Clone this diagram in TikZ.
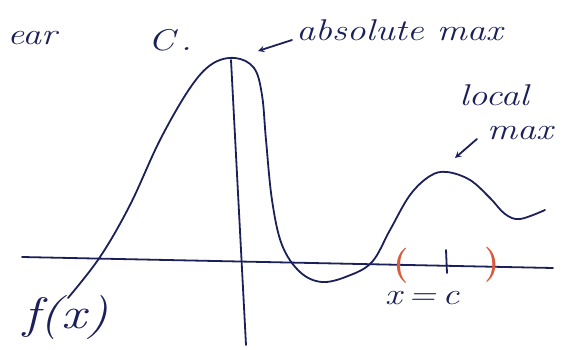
\documentclass[tikz,border=0pt]{standalone}
\usepackage{tikz}
\usetikzlibrary{arrows, positioning}
\definecolor{ink}{RGB}{28,32,88}
\definecolor{penred}{RGB}{214,92,62}

\begin{document}
\begin{tikzpicture}[
    x=1pt, y=-1pt,
    ink/.style={draw=ink, line width=1.8pt, line cap=round, line join=round},
    hand/.style={text=ink, inner sep=0pt, xscale=1.25, transform shape,
        font=\fontsize{30}{32}\selectfont\itshape},
    paren/.style={text=penred, inner sep=0pt, font=\fontsize{35}{37}\selectfont\bfseries},
    arrow/.style={->, >=stealth, ink}
]
    \useasboundingbox (0,0) rectangle (567,350);

    % Axes
    \coordinate (xleft) at (22,257);
    \coordinate (xright) at (553,268);
    \coordinate (ytop) at (231,60);
    \coordinate (ybot) at (246,345);
    \draw[ink] (xleft) -- (xright);
    \draw[ink] (ytop) -- (ybot);

    % The function
    \draw[ink] plot[smooth, tension=0.6] coordinates {
        (68,298) (100,257) (130,205) (160,140) (190,88) (212,64) (235,58)
        (254,68) (262,95) (266,140) (272,200) (282,245) (300,272) (322,282)
        (348,276) (372,262) (390,230) (410,195) (430,176) (447,172) (470,180)
        (490,198) (505,214) (520,219) (545,210)};

    % Labels
    \node[hand] (near) at (32,38) {ear};
    \node[hand] (cdot) at (170,40) {C\,.};
    \node[hand, anchor=west] (absmax) at (296,30) {absolute max};
    \node[hand] (local) at (494,95) {local};
    \node[hand] (max) at (520,133) {max};
    \node[hand, font=\fontsize{44}{46}\selectfont\itshape] (fx) at (66,318) {f(x)};
    \node[hand] (xc) at (422,298) {x\,=\,c};

    % Interval around c
    \node[paren] (lpar) at (401,266) {(};
    \node[paren] (rpar) at (492,265) {)};
    \coordinate (ctop) at (446,250);
    \coordinate (cbot) at (447,273);
    \draw[ink] (ctop) -- (cbot);

    % Pointers
    \coordinate (peak) at (258,51);
    \coordinate (bump) at (455,158);
    \draw[arrow] (absmax.west) ++(-4,10) -- (peak);
    \draw[arrow] (max.west) ++(-10,6) -- (bump);
\end{tikzpicture}
\end{document}
